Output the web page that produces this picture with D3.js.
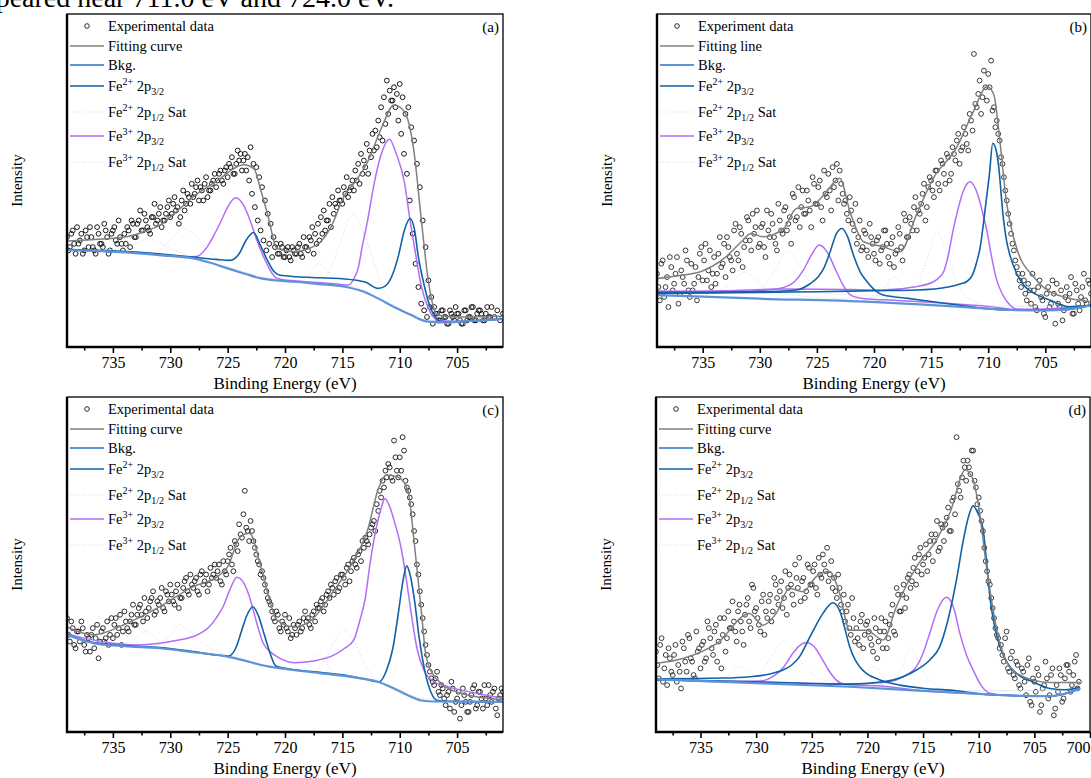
<!DOCTYPE html>
<html>
<head>
<meta charset="utf-8">
<script src="https://cdn.jsdelivr.net/npm/d3@7"></script>
<style>
body { margin: 0; background: #fff; }
svg { display: block; font-family: "Liberation Serif", "Times New Roman", serif; }
</style>
</head>
<body>
<svg id="chart" width="1091" height="778"></svg>
<script>
// binding energy grid of the scans (eV), two interleaved passes
var energy = [
 739,738.75,738.5,738.25,738,737.75,737.5,737.25,
 737,736.75,736.5,736.25,736,735.75,735.5,735.25,
 735,734.75,734.5,734.25,734,733.75,733.5,733.25,
 733,732.75,732.5,732.25,732,731.75,731.5,731.25,
 731,730.75,730.5,730.25,730,729.75,729.5,729.25,
 729,728.75,728.5,728.25,728,727.75,727.5,727.25,
 727,726.75,726.5,726.25,726,725.75,725.5,725.25,
 725,724.75,724.5,724.25,724,723.75,723.5,723.25,
 723,722.75,722.5,722.25,722,721.75,721.5,721.25,
 721,720.75,720.5,720.25,720,719.75,719.5,719.25,
 719,718.75,718.5,718.25,718,717.75,717.5,717.25,
 717,716.75,716.5,716.25,716,715.75,715.5,715.25,
 715,714.75,714.5,714.25,714,713.75,713.5,713.25,
 713,712.75,712.5,712.25,712,711.75,711.5,711.25,
 711,710.75,710.5,710.25,710,709.75,709.5,709.25,
 709,708.75,708.5,708.25,708,707.75,707.5,707.25,
 707,706.75,706.5,706.25,706,705.75,705.5,705.25,
 705,704.75,704.5,704.25,704,703.75,703.5,703.25,
 703,702.75,702.5,702.25,702,701.75,701.5,701.25,
 701];
var energy2 = [
 738.875,738.625,738.375,738.125,737.875,737.625,737.375,737.125,
 736.875,736.625,736.375,736.125,735.875,735.625,735.375,735.125,
 734.875,734.625,734.375,734.125,733.875,733.625,733.375,733.125,
 732.875,732.625,732.375,732.125,731.875,731.625,731.375,731.125,
 730.875,730.625,730.375,730.125,729.875,729.625,729.375,729.125,
 728.875,728.625,728.375,728.125,727.875,727.625,727.375,727.125,
 726.875,726.625,726.375,726.125,725.875,725.625,725.375,725.125,
 724.875,724.625,724.375,724.125,723.875,723.625,723.375,723.125,
 722.875,722.625,722.375,722.125,721.875,721.625,721.375,721.125,
 720.875,720.625,720.375,720.125,719.875,719.625,719.375,719.125,
 718.875,718.625,718.375,718.125,717.875,717.625,717.375,717.125,
 716.875,716.625,716.375,716.125,715.875,715.625,715.375,715.125,
 714.875,714.625,714.375,714.125,713.875,713.625,713.375,713.125,
 712.875,712.625,712.375,712.125,711.875,711.625,711.375,711.125,
 710.875,710.625,710.375,710.125,709.875,709.625,709.375,709.125,
 708.875,708.625,708.375,708.125,707.875,707.625,707.375,707.125,
 706.875,706.625,706.375,706.125,705.875,705.625,705.375,705.125,
 704.875,704.625,704.375,704.125,703.875,703.625,703.375,703.125,
 702.875,702.625,702.375,702.125,701.875,701.625,701.375,701.125];

// measured intensities (a.u., 0-100 of panel height)
var expA = [
 33,30,35,28, 31,34,29,33, 36,30,28,34, 31,37,33,29,
 35,32,38,31, 34,36,30,37, 33,38,35,40, 36,34,39,37,
 40,36,38,42, 39,43,41,37, 44,41,46,43, 45,48,44,47,
 49,45,47,50, 48,52,50,53, 51,54,52,55, 56,53,58,57,
 60,55,54,51, 48,44,40,37, 33,31,28,30, 27,30,26,29,
 28,31,27,30, 29,32,28,31, 32,34,35,38, 36,40,42,44,
 43,46,45,48, 47,50,49,52, 54,52,57,59, 60,63,62,67,
 70,74,78,76, 79,75,70,72, 66,62,55,48, 38,30,20,15,
 12,10,8,11, 9,7,10,8, 10,8,7,11, 9,12,8,10,
 11,8,10,9, 12,9,11,8, 10];
var expA2 = [
 29,34,31,36, 32,28,35,30, 33,29,36,31, 30,35,28,34,
 36,31,33,29, 31,35,38,33, 37,41,35,38, 35,39,43,38,
 42,38,40,44, 40,45,42,39, 47,43,45,49, 46,50,48,44,
 51,47,49,52, 50,53,49,54, 55,57,52,59, 58,56,53,50,
 46,42,38,35, 32,29,31,27, 30,28,31,27, 29,27,30,28,
 30,28,33,30, 33,36,34,37, 39,41,38,43, 45,43,47,44,
 48,51,47,50, 53,55,58,56, 61,59,64,65, 68,72,75,80,
 77,74,72,68, 64,58,52,44, 34,25,18,13, 11,9,12,7,
 10,8,11,9, 7,11,9,12, 10,7,11,8, 9,12,8,11,
 10,8,12,9];
var expB = [
 22,14,26,18, 12,24,19,27, 16,21,29,17, 25,19,14,28,
 20,31,23,18, 27,22,33,25, 21,30,26,35, 28,36,24,32,
 38,29,34,41, 31,37,27,35, 40,33,29,38, 34,42,37,31,
 45,39,36,47, 40,44,36,49, 43,50,38,46, 52,41,48,55,
 53,46,44,38, 41,35,31,38, 30,34,27,33, 28,32,25,30,
 35,27,31,24, 29,34,26,38, 33,37,42,35, 40,46,38,48,
 50,45,53,47, 55,49,57,52, 58,62,55,60, 64,59,68,88,
 72,80,75,78, 82,86,72,68, 62,55,47,40, 34,29,24,20,
 22,16,19,13, 17,11,20,14, 9,18,13,16, 19,12,8,15,
 14,21,10,17, 11,18,14,20, 16];
var expB2 = [
 18,25,15,21, 27,17,22,13, 23,19,26,15, 17,24,21,30,
 26,20,29,22, 19,28,24,31, 33,27,23,37, 26,34,30,39,
 32,40,36,30, 36,30,41,33, 37,31,43,35, 41,35,39,46,
 38,48,42,40, 47,41,51,43, 48,42,53,45, 47,54,50,44,
 49,43,40,45, 37,43,33,29, 35,29,37,31, 26,33,29,35,
 31,25,33,28, 36,30,40,33, 39,35,45,41, 43,49,42,51,
 47,53,49,56, 52,58,50,60, 56,64,59,66, 61,70,65,73,
 76,70,83,74, 78,71,66,64, 57,51,44,37, 31,26,22,18,
 20,14,17,22, 12,18,15,10, 16,12,20,7, 13,17,11,18,
 16,10,19,13, 15,22,13,19];
var expC = [
 34,27,31,25, 30,33,26,29, 24,31,28,22, 30,27,33,29,
 28,34,31,26, 36,31,33,38, 32,37,35,40, 34,39,42,36,
 38,43,36,41, 44,39,42,37, 40,45,42,47, 43,46,41,48,
 45,42,49,47, 46,50,44,48, 51,55,48,56, 62,58,72,60,
 63,57,53,50, 48,44,40,38, 34,36,31,33, 35,30,28,32,
 29,33,31,36, 34,31,36,38, 37,40,38,42, 44,41,46,43,
 47,44,50,48, 52,49,54,57, 58,56,61,63, 68,72,75,78,
 80,76,87,78, 82,88,75,72, 68,60,50,42, 34,26,20,16,
 14,18,11,13, 8,12,15,6, 10,4,13,9, 6,11,14,8,
 12,7,10,14, 9,13,5,11, 12];
var expC2 = [
 29,33,26,30, 27,31,24,28, 29,25,32,27, 31,28,26,34,
 32,29,35,30, 33,30,35,32, 35,38,33,36, 37,40,35,39,
 40,37,42,39, 41,38,44,40, 43,46,41,44, 45,42,47,44,
 47,44,46,50, 48,45,51,47, 53,50,57,54, 59,65,61,57,
 60,55,51,47, 46,42,39,36, 33,35,30,32, 31,34,29,31,
 32,30,34,33, 32,35,33,37, 39,36,41,40, 43,45,42,47,
 46,49,45,51, 50,53,51,55, 57,59,62,60, 66,70,73,76,
 79,75,82,76, 78,84,73,70, 65,57,47,38, 30,23,18,15,
 16,12,14,10, 11,7,13,9, 12,8,11,6, 9,13,7,12,
 10,14,8,11, 12,7,10,13];
var expD = [
 24,16,28,19, 14,22,17,26, 20,13,25,18, 28,21,16,24,
 19,27,22,31, 25,30,21,34, 29,24,36,31, 33,27,38,30,
 35,40,31,43, 37,32,39,29, 34,41,36,44, 38,45,40,35,
 47,41,50,43, 39,46,42,49, 44,50,41,47, 53,48,45,51,
 46,40,43,36, 33,38,29,34, 31,26,35,29, 33,28,24,31,
 27,34,30,25, 32,38,29,41, 36,44,40,47, 45,52,48,55,
 50,56,53,59, 57,63,55,61, 62,67,60,70, 88,72,76,79,
 81,77,84,73, 70,63,55,48, 44,37,31,28, 26,21,30,18,
 24,16,20,13, 18,11,22,8, 15,19,6,13, 21,10,17,5,
 14,19,9,16, 20,12,17,23, 15];
var expD2 = [
 20,26,15,23, 25,18,23,15, 18,27,21,29, 22,17,30,25,
 26,21,33,28, 23,32,27,19, 34,28,31,39, 30,36,33,26,
 38,33,44,36, 34,30,41,36, 39,33,46,40, 42,37,48,43,
 44,38,46,52, 45,40,50,44, 48,43,52,46, 50,55,47,43,
 42,47,38,41, 36,31,40,27, 28,33,25,32, 30,26,34,22,
 30,25,33,28, 35,30,43,36, 41,37,46,43, 49,44,53,47,
 52,48,57,51, 59,54,62,57, 64,60,69,65, 74,70,81,75,
 79,84,75,68, 66,60,51,45, 40,34,29,25, 23,28,19,22,
 17,21,14,19, 15,20,9,16, 12,17,8,14, 16,11,19,7,
 12,17,10,20, 18,14,21,13];

// fitted curves, [energy, intensity]
var fitA = [[739,31.8],[736,32.4],[733.8,33.1],[732,35],[730.9,36.6],[730,39],[729,42],[728,45.1],[727,47.5],[725.6,50.7],[724.5,53.5],[723.6,54.7],[722.7,53.5],[722.1,47],[721.5,39.6],[720.7,29.6],[719.2,28.6],[718,29.5],[716.9,31.6],[716,36],[714.8,45.6],[713.8,50],[712.8,55.6],[711.6,65.7],[710.5,72.7],[709.6,70.7],[708.8,59.7],[708.1,37.6],[707.5,19.6],[706.7,9.6],[705,9],[701.1,9.2]];
var bkgA = [[739,29.1],[736,28.8],[733.8,28.4],[731,27.6],[728,26.6],[726.5,25.3],[725,23.6],[723.5,22],[722.1,20.6],[720.5,19.9],[719.2,19.6],[717,18.9],[714.8,18.1],[713.3,16.8],[711.9,14.6],[710.5,12],[709,9.6],[708,8],[707.5,7.6],[706.1,7.4],[704,7.8],[701,8.4]];
var fe2A = [[739,29.3],[735,28.9],[731,28],[728,27],[726,26.3],[724.8,26],[724,28],[723.4,32],[722.75,34.4],[722.2,31],[721.6,26.5],[721,22.8],[720.5,21.6],[719,21.1],[717,20.8],[715,20.5],[713,19.5],[711.9,17.6],[711.3,18.2],[710.6,22],[710.1,27.6],[709.6,35],[709.1,38.6],[708.7,35],[708.4,27.6],[707.9,19],[707.5,13.6],[706.9,9],[706.3,7.6],[704,7.8],[701,8.4]];
var fe3A = [[739,29.2],[733,28.3],[729,27.1],[727.7,27.2],[726.8,30],[726.2,33.5],[725.6,37.6],[725,42],[724.3,44.8],[723.6,42.5],[723,37.6],[722.4,31.5],[721.8,26.6],[721.2,22.5],[720.7,20.6],[719,19.8],[716,19.1],[714.5,18.6],[714,20.5],[713.6,24],[713.3,29.6],[712.8,38],[712.2,49.6],[711.6,58],[710.9,62.4],[710.3,58],[709.6,49.6],[709.1,38],[708.7,29.6],[708.1,18],[707.5,11.6],[706.7,8.1],[705,7.6],[701,8.4]];
var sat2A = [[739,29.2],[733,28.5],[731,29],[730,32],[729,35.5],[728,34],[727,30],[726,26.5],[723,22],[720,19.8],[717,19.5],[716,24],[715,33],[714.5,38],[714,40],[713.5,37],[712.5,28],[711.5,18],[710.5,13],[709,9.8],[707,7.6],[701,8.4]];
var sat3A = [[739,29.2],[735,29.5],[733,31],[732,32.5],[731,31.5],[730,29.5],[728,27],[725,23.7],[719,19.7],[718,21],[717.5,24],[717,25],[716.3,23],[715.5,19.5],[713,17],[711,13],[709,9.7],[701,8.4]];

var fitB = [[739,20.6],[737,21.5],[735.2,22.6],[733,27],[731.5,32],[730.8,34.1],[729.7,33.1],[727.9,35.6],[726.8,41.6],[725.6,42.1],[724.4,45.6],[723,50.7],[722.1,40.6],[720.9,31.6],[719.2,30.1],[717.7,28.6],[716.3,39.6],[714.8,50.7],[712.8,59.7],[711.3,70.7],[710.1,78.2],[709.5,75.7],[709.1,65.7],[708.4,43.6],[707.5,29.6],[706,21],[704.6,16.6],[701.1,13.6]];
var bkgB = [[739,15.6],[735,15.1],[730,14.5],[722.1,13.8],[716,12.8],[712,12],[708.5,11.2],[707.5,11.1],[705,11],[703,11.3],[701,12.6]];
var fe2B1 = [[739,16.4],[735,16.4],[730.8,16.6],[728,16.8],[726.8,17.1],[725.6,19],[724.9,21],[724.4,23.6],[723.8,29],[723.3,34],[722.8,35.6],[722.3,33],[721.8,27.6],[721.2,22.5],[720.6,19.6],[719.9,17],[719.2,15.6],[717,14.6],[714.8,13.6],[712,12.3],[710.4,11.6],[707.5,11.1],[705,11.1],[703,11.3],[701,12.6]];
var fe2B2 = [[739,16.1],[730,16.4],[725,16.6],[720,16.9],[716.3,17.1],[713.4,18.1],[712.4,19],[711.9,19.6],[711.4,21.5],[711,25.6],[710.7,30],[710.4,37.6],[709.9,51.7],[709.6,61.2],[709.3,59],[709.1,54.7],[708.7,39.6],[708.4,32],[708.1,27.6],[707.5,22],[706.9,18.6],[705.8,15.8],[704.6,14.1],[702.9,12.1],[701,12.6]];
var fe3B1 = [[739,16.8],[733,16.6],[729.2,17.2],[728,17.8],[727,19.5],[726.2,23],[725.5,27.5],[724.8,30.6],[724.1,28.5],[723.4,23.5],[722.7,18.5],[722,15.5],[721,14.6],[718,14],[714,13.2],[710,12.2],[707.5,11.2],[701,12.4]];
var fe3B2 = [[739,16.6],[733,16.9],[727.9,17.4],[722,17.3],[719.2,17.1],[716.5,18],[714.8,19.6],[714.2,21.2],[713.9,22.6],[713.5,27.5],[713.1,34.6],[712.6,42],[712.2,46.6],[711.6,49.6],[710.9,45.6],[710.5,40.5],[710.1,34.6],[709.7,27],[709.3,20.6],[708.7,15.5],[708.1,12.6],[707.5,11.4],[705,11.2],[701,12.4]];
var sat2B = [[739,16],[731,16.5],[729.5,19],[728.5,24],[727.6,28.6],[726.8,26],[725.5,19],[724,16],[719,15.5],[717,16],[716,20],[715.2,28],[714.5,34.6],[713.8,30],[712.8,20],[711.5,14],[709,12],[701,12.4]];
var sat3B = [[739,16],[734,16.3],[733,18],[732,21],[731.2,22.5],[730.3,20],[729,16.5],[722,14.5],[720,15],[719,18],[718.3,21],[717.6,19],[716.5,14.5],[712,12.4],[701,12.4]];

var fitC = [[739,31.4],[736.7,29],[733.8,32.4],[730.9,37.4],[728,43.4],[725.9,46.4],[725,49.3],[723.9,58.3],[723.1,59.3],[722.1,49.3],[721.5,41.4],[720.7,33.4],[719.2,31.4],[717.7,33.4],[715.7,42.4],[714,51.3],[712.8,60.3],[711.9,72.2],[711.2,76.7],[710.2,76.2],[709.3,72.2],[708.7,55.3],[708.1,35.4],[707.7,22.5],[706.7,15.5],[704.6,11.5],[700.9,9.6]];
var bkgC = [[739,29],[736.7,26.5],[734,25.6],[730.9,25],[728,23.8],[725,22.5],[723.5,21.3],[722.1,20],[720,18.8],[717,17.6],[714.5,16.6],[713.4,16],[711.9,15],[710.5,13],[709.2,10.8],[708.1,9.4],[707,9.1],[701,9]];
var fe2C = [[739,29.2],[736.7,26.7],[734,25.8],[730.9,25.2],[728,24],[725.8,22.9],[724.9,22.7],[724.3,25],[723.8,30],[723.3,35],[722.8,37.4],[722.3,34.5],[721.8,29],[721.3,23.5],[720.8,19.7],[720,19],[717,17.8],[714.5,16.8],[713,15.8],[711.8,15],[711.2,18],[710.6,25],[710.1,36],[709.7,45.5],[709.4,49.6],[709.1,47],[708.7,39],[708.3,28],[707.8,18],[707.3,12],[706.7,9.4],[705,9.1],[701,9]];
var fe3C = [[739,29.3],[736,27],[733,26],[730.9,26.5],[729.5,27.3],[728,28.5],[727.2,29.8],[726.6,31.4],[726,34],[725.4,37.4],[724.8,42.5],[724.2,46.2],[723.6,44.5],[723.1,40.4],[722.5,33],[721.9,26.5],[721.3,24],[720.7,22.5],[719.2,20.7],[717.5,21.2],[715.7,23],[714.8,25],[714,27.5],[713.5,33],[713,40],[712.6,50],[712.1,60],[711.6,67],[711.3,69.7],[710.9,67.5],[710.4,62],[709.9,55.3],[709.4,45],[709,35.4],[708.5,25],[707.9,18.5],[707,15],[705.8,13.5],[704.6,12.5],[702.5,11],[701,10.1]];
var sat2C = [[739,29.2],[733,25.8],[731,26],[730,29],[729.2,32],[728.3,30],[727,26],[725,22.8],[720,19],[717.5,18],[716.5,22],[715.5,28],[714.8,30.5],[714,27],[713,20],[712,15.5],[710,12.5],[707,9.1],[701,9]];
var sat3C = [[739,29.2],[736,27],[734,26.5],[733,28],[732.2,30],[731.4,28.5],[730.5,25.5],[726,23],[720,19],[718.5,18.5],[717.8,21],[717.2,23.5],[716.5,21],[715.5,17],[712,15],[709,10.5],[701,9]];

var fitD = [[738.9,20.5],[736.5,22],[733.5,26.5],[730.6,35.4],[729.4,31.9],[728.2,35.4],[727,42.9],[725.8,41.9],[724.6,46.4],[723.4,47.9],[722.5,41.4],[721.6,30.4],[720.1,30.4],[718.6,27.5],[717.4,37.4],[715.6,49.3],[713.8,57.3],[712.6,65.3],[711.2,78.2],[710.5,75.2],[710,67.2],[709.3,49.3],[708.1,26.5],[706.6,17.5],[703.6,14.8],[700.9,14.8]];
var bkgD = [[738.9,15.7],[730,14.6],[721.6,13.5],[715,12.3],[709.6,11.3],[706,10.8],[703.6,10.7],[702.2,11.5],[700.9,13]];
var fe2D1 = [[738.9,15.9],[733,16.1],[730.6,16.5],[728.8,17.3],[727.6,18.5],[726.8,20],[726.1,22.5],[725.3,27.5],[724.6,32],[724,35.4],[723.1,38.6],[722.4,35.4],[722,30.5],[721.6,25.5],[721.1,21.5],[720.7,19.5],[720.1,17.5],[719,15.7],[717.1,14],[714.8,13],[712.6,12.5],[709.6,11.3],[706,10.8],[703.6,10.7],[702.2,11.5],[700.9,13]];
var fe2D2 = [[738.9,15.6],[730,15],[725,14.5],[721.6,14.3],[718.6,15],[716.8,16.5],[715.6,18.5],[714.4,21.5],[713.5,25.5],[712.8,33],[712,45.4],[711.4,57],[710.9,64.5],[710.5,67.5],[710.1,65.5],[709.6,60.3],[709.3,51],[709,40.4],[708.6,32],[708.1,25.5],[707.4,20.5],[706.6,17.5],[705,14.8],[703.6,13],[702.2,12.6],[700.9,13.4]];
var fe3D1 = [[738.9,15.8],[733,15],[729.6,15.2],[728.5,16.5],[727.5,19.5],[726.7,23.5],[726.1,25.8],[725.5,26.7],[724.8,25.5],[724.2,22.5],[723.5,18.5],[722.8,15.5],[722,14.2],[719,13.8],[715,12.3],[709.6,11.3],[706,10.8],[703.6,10.7],[702.2,11.5],[700.9,13]];
var fe3D2 = [[738.9,15.8],[730,14.9],[722,14.3],[719.5,14.6],[718,15],[716.8,16.5],[715.6,19.5],[715,23.5],[714.4,29.5],[713.7,36.5],[712.9,40.2],[712.2,36.5],[711.7,29.5],[711.1,23],[710.5,18.5],[709.8,14],[709,11.6],[707.5,11],[706,10.8],[703.6,10.7],[702.2,11.5],[700.9,13]];
var sat2D = [[738.9,15.8],[731,15.3],[729.5,18],[728.5,23],[727.6,27],[726.8,25],[725.5,19],[724,15.5],[719,14],[717.5,16],[716.7,21],[716.2,25],[715.6,22.5],[714.6,16],[712,12.3],[701,12.5]];
var sat3D = [[738.9,15.8],[734,15.3],[732.5,17],[731.6,19.5],[730.8,18.5],[729.5,15.5],[723,14],[721,14.5],[720.2,17.5],[719.5,19.5],[718.7,17],[717.5,14.5],[712,12.3],[701,12.5]];

// ticks and legend names
var majorTicks = [735, 730, 725, 720, 715, 710, 705];
var majorTicksD = [735, 730, 725, 720, 715, 710, 705, 700];
var minorTicks = [737.5, 732.5, 727.5, 722.5, 717.5, 712.5, 707.5, 702.5];
var namesA = ["Experimental data", "Fitting curve", "Bkg."];
var namesB = ["Experiment data", "Fitting line", "Bkg."];
var peakNames = [
  {ion: "2+", orb: "3/2", tail: ""},
  {ion: "2+", orb: "1/2", tail: " Sat"},
  {ion: "3+", orb: "3/2", tail: ""},
  {ion: "3+", orb: "1/2", tail: " Sat"}
];

var colFit = "#808080", colBkg = "#5f93d8", colFe2 = "#0f62a6", colFe3 = "#b36cf7", colSat = "#cfdbea";

var panels = [
  {tag: "(a)", left: 67, right: 503, top: 14, bottom: 347, dom: [739, 701], ticks: majorTicks, dot: "#1a1a1a",
   exp: expA, exp2: expA2, fit: fitA, bkg: bkgA, fe2: [fe2A], fe3: [fe3A], sat: [sat2A, sat3A], names: namesA},
  {tag: "(b)", left: 657, right: 1091, top: 14, bottom: 347, dom: [739, 701], ticks: majorTicks, dot: "#3a3a3a",
   exp: expB, exp2: expB2, fit: fitB, bkg: bkgB, fe2: [fe2B1, fe2B2], fe3: [fe3B1, fe3B2], sat: [sat2B, sat3B], names: namesB},
  {tag: "(c)", left: 67, right: 503, top: 397, bottom: 732, dom: [739, 701], ticks: majorTicks, dot: "#2a2a2a",
   exp: expC, exp2: expC2, fit: fitC, bkg: bkgC, fe2: [fe2C], fe3: [fe3C], sat: [sat2C, sat3C], names: namesA},
  {tag: "(d)", left: 656, right: 1090, top: 397, bottom: 732, dom: [739, 700], ticks: majorTicksD, dot: "#3a3a3a",
   exp: expD, exp2: expD2, fit: fitD, bkg: bkgD, fe2: [fe2D1, fe2D2], fe3: [fe3D1, fe3D2], sat: [sat2D, sat3D], names: namesA}
];

var svg = d3.select("#chart");

// cut-off caption line above the figure
svg.append("text")
   .attr("x", 394)
   .attr("y", 7)
   .attr("text-anchor", "end")
   .attr("font-size", "28px")
   .text("appeared near 711.0 eV and 724.0 eV.");

panels.forEach(function(p, i) { drawPanel(p, i); });

function drawPanel(p, i) {
	var x = d3.scaleLinear().domain(p.dom).range([p.left, p.right]);
	var y = d3.scaleLinear().domain([0, 100]).range([p.bottom, p.top]);

	svg.append("clipPath").attr("id", "clip" + i)
	   .append("rect")
	   .attr("x", p.left).attr("y", p.top)
	   .attr("width", p.right - p.left).attr("height", p.bottom - p.top);

	var g = svg.append("g").attr("clip-path", "url(#clip" + i + ")");

	var line = d3.line()
	   .x(function(d) { return x(d[0]); })
	   .y(function(d) { return y(d[1]); })
	   .curve(d3.curveMonotoneX);

	// measured points, both passes
	[[p.exp, energy], [p.exp2, energy2]].forEach(function(pass) {
		g.append("g").selectAll("circle")
		 .data(pass[0])
		 .enter().append("circle")
		 .attr("cx", function(d, k) { return x(pass[1][k]); })
		 .attr("cy", function(d) { return y(d); })
		 .attr("r", 2.4)
		 .attr("fill", "none")
		 .attr("stroke", p.dot)
		 .attr("stroke-width", 1);
	});

	p.sat.forEach(function(s) {
		g.append("path").datum(s).attr("d", line)
		 .attr("fill", "none").attr("stroke", colSat)
		 .attr("stroke-width", 1).attr("stroke-dasharray", "1,2");
	});
	p.fe3.forEach(function(s) {
		g.append("path").datum(s).attr("d", line)
		 .attr("fill", "none").attr("stroke", colFe3).attr("stroke-width", 1.5);
	});
	p.fe2.forEach(function(s) {
		g.append("path").datum(s).attr("d", line)
		 .attr("fill", "none").attr("stroke", colFe2).attr("stroke-width", 1.6);
	});
	g.append("path").datum(p.bkg).attr("d", line)
	 .attr("fill", "none").attr("stroke", colBkg).attr("stroke-width", 2.2);
	g.append("path").datum(p.fit).attr("d", line)
	 .attr("fill", "none").attr("stroke", colFit).attr("stroke-width", 1.5);

	// frame: thin top/right, heavy left/bottom
	svg.append("rect")
	   .attr("x", p.left).attr("y", p.top)
	   .attr("width", p.right - p.left).attr("height", p.bottom - p.top)
	   .attr("fill", "none").attr("stroke", "#000").attr("stroke-width", 1.3);
	svg.append("path")
	   .attr("d", "M" + p.left + "," + p.top + "V" + p.bottom + "H" + p.right)
	   .attr("fill", "none").attr("stroke", "#000").attr("stroke-width", 2.4);

	// x axis, major and minor ticks
	var ax = svg.append("g")
	   .attr("transform", "translate(0," + p.bottom + ")")
	   .call(d3.axisBottom(x).tickValues(p.ticks).tickSize(6).tickPadding(4).tickFormat(d3.format("d")));
	ax.select(".domain").remove();
	ax.selectAll("line").attr("stroke-width", 1.6);
	ax.selectAll("text").attr("font-size", "16px").attr("font-family", "Liberation Serif, serif").attr("fill", "#000")
	  .filter(function(d) { return x(d) > 1080; })
	  .attr("text-anchor", "end");

	var mx = svg.append("g")
	   .attr("transform", "translate(0," + p.bottom + ")")
	   .call(d3.axisBottom(x).tickValues(minorTicks.filter(function(t) { return t < p.dom[0] && t > p.dom[1]; })).tickSize(3.5).tickFormat(""));
	mx.select(".domain").remove();
	mx.selectAll("line").attr("stroke-width", 1.6);

	svg.append("text")
	   .attr("x", (p.left + p.right) / 2)
	   .attr("y", p.bottom + 42)
	   .attr("text-anchor", "middle")
	   .attr("font-size", "17px")
	   .text("Binding Energy (eV)");

	svg.append("text")
	   .attr("transform", "translate(" + (p.left - 45) + "," + ((p.top + p.bottom) / 2) + ") rotate(-90)")
	   .attr("text-anchor", "middle")
	   .attr("font-size", "15px")
	   .text("Intensity");

	svg.append("text")
	   .attr("x", Math.min(p.right, 1091) - 4)
	   .attr("y", p.top + 18)
	   .attr("text-anchor", "end")
	   .attr("font-size", "15px")
	   .text(p.tag);

	drawLegend(p);
}

function drawLegend(p) {
	var rows = [12, 32, 51, 72, 98, 122, 148];
	var lx0 = p.left + 3, lx1 = p.left + 37, tx = p.left + 41;
	var lg = svg.append("g").attr("font-size", "14.5px");

	lg.append("circle").attr("cx", p.left + 20).attr("cy", p.top + rows[0])
	  .attr("r", 2.3).attr("fill", "none").attr("stroke", "#2b2b2b").attr("stroke-width", 1);

	var kinds = [null, [colFit, 1.5, null], [colBkg, 2.2, null], [colFe2, 1.6, null],
	             [colSat, 1, "1,2"], [colFe3, 1.5, null], [colSat, 1, "1,2"]];
	kinds.forEach(function(k, r) {
		if (!k) return;
		lg.append("line")
		  .attr("x1", lx0).attr("x2", lx1)
		  .attr("y1", p.top + rows[r]).attr("y2", p.top + rows[r])
		  .attr("stroke", k[0]).attr("stroke-width", k[1])
		  .attr("stroke-dasharray", k[2]);
	});

	p.names.forEach(function(n, r) {
		lg.append("text").attr("x", tx).attr("y", p.top + rows[r] + 5).text(n);
	});

	peakNames.forEach(function(n, r) {
		var t = lg.append("text").attr("x", tx).attr("y", p.top + rows[r + 3] + 5);
		t.append("tspan").text("Fe");
		t.append("tspan").attr("font-size", "10px").attr("dy", -6).text(n.ion);
		t.append("tspan").attr("dy", 6).text(" 2p");
		t.append("tspan").attr("font-size", "10px").attr("dy", 4).text(n.orb);
		t.append("tspan").attr("dy", -4).text(n.tail);
	});
}
</script>
</body>
</html>
